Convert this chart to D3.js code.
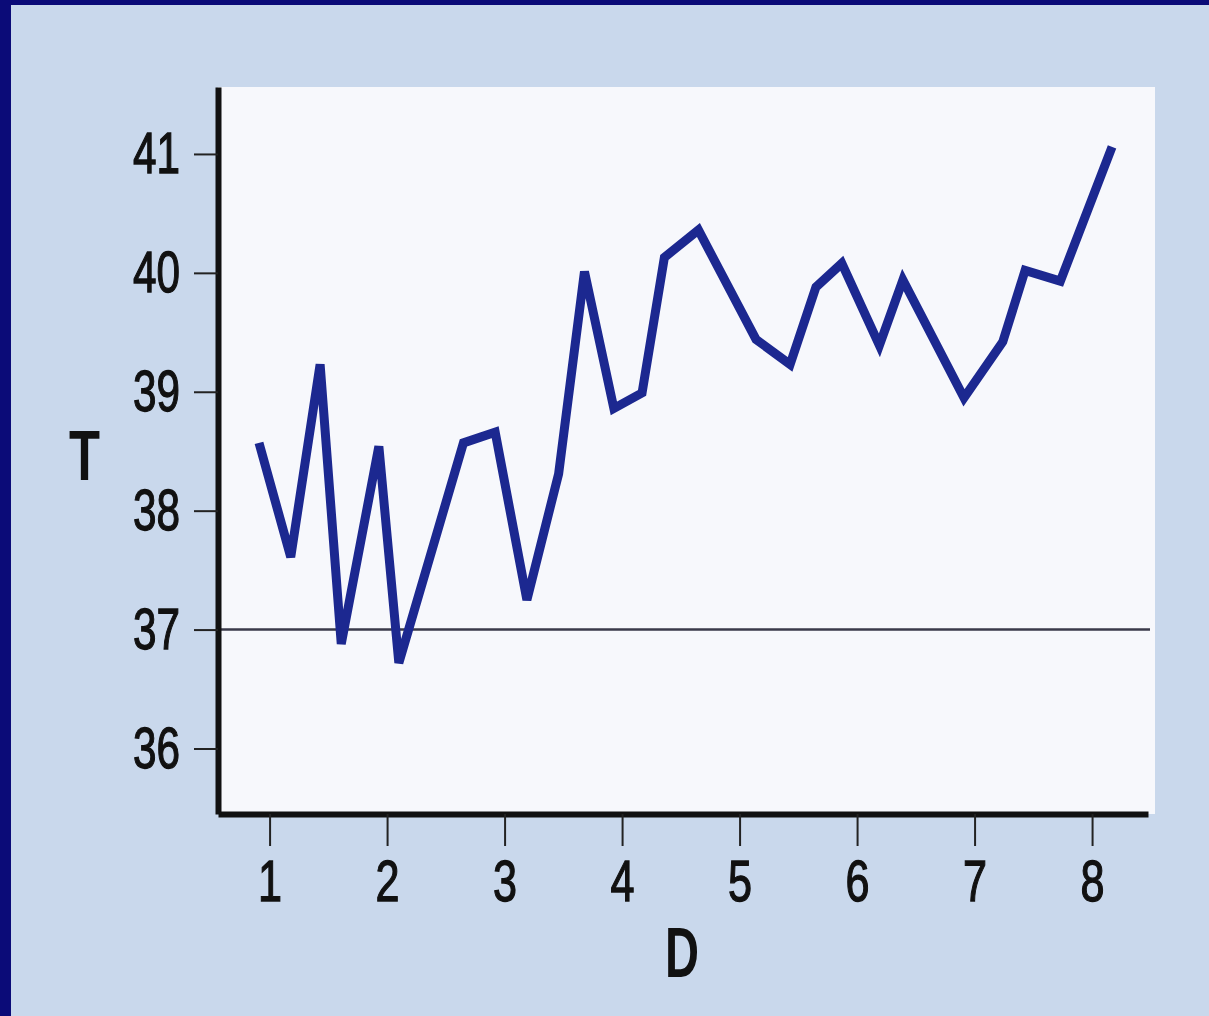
<!DOCTYPE html>
<html>
<head>
<meta charset="utf-8">
<script src="https://cdn.jsdelivr.net/npm/d3@7"></script>
<style>
  body { margin: 0; background: #0b0b78; }
  svg { display: block; }
  .tick text { font-family: "Liberation Sans", Arial, sans-serif; }
</style>
</head>
<body>
<svg id="chart" width="1209" height="1016"></svg>
<script>
// day (x) and temperature (y)
const days = [0.91, 1.18, 1.43, 1.61, 1.93, 2.10, 2.65, 2.92, 3.19, 3.46, 3.68, 3.93, 4.17,
    4.36, 4.65, 5.14, 5.43, 5.65, 5.87, 6.19, 6.39, 6.91, 7.24, 7.43, 7.73, 8.17];
const temps = [38.57, 37.61, 39.23, 36.88, 38.54, 36.72, 38.57, 38.66, 37.25, 38.31, 40.01, 38.86, 38.99,
    40.13, 40.36, 39.44, 39.23, 39.88, 40.08, 39.39, 39.94, 38.95, 39.42, 40.02, 39.93, 41.06];
const xTicks = [1, 2, 3, 4, 5, 6, 7, 8];
const yTicks = [36, 37, 38, 39, 40, 41];
const normalTemp = 37;

const data = days.map((d, i) => ({ day: d, temp: temps[i] }));

const svg = d3.select('#chart');

// light panel inside the dark frame
svg.append('rect')
    .attr('x', 11).attr('y', 5)
    .attr('width', 1209 - 11).attr('height', 1016 - 5)
    .attr('fill', '#c9d8ec');

const xScale = d3.scaleLinear().domain([0.561, 8.476]).range([218, 1148]);
const yScale = d3.scaleLinear().domain([35.449, 41.563]).range([814, 87]);

// white plot paper
svg.append('rect')
    .attr('x', 218).attr('y', 87)
    .attr('width', 1155 - 218).attr('height', 814 - 87)
    .attr('fill', '#f7f8fc');

// normal temperature line
svg.append('line')
    .attr('x1', 220).attr('x2', 1150)
    .attr('y1', yScale(normalTemp)).attr('y2', yScale(normalTemp))
    .attr('stroke', '#3a3a4a')
    .attr('stroke-width', 2.5);

const line = d3.line()
    .x(d => xScale(d.day))
    .y(d => yScale(d.temp));

svg.append('path')
    .datum(data)
    .attr('d', line)
    .attr('fill', 'none')
    .attr('stroke', '#1c2890')
    .attr('stroke-width', 9)
    .attr('stroke-linejoin', 'miter')
    .attr('stroke-miterlimit', 3);

const xAxis = svg.append('g')
    .attr('transform', `translate(0,${814})`)
    .call(d3.axisBottom(xScale).tickValues(xTicks).tickFormat(d3.format('d'))
        .tickSize(32).tickSizeOuter(0).tickPadding(14));

const yAxis = svg.append('g')
    .attr('transform', `translate(${218},0)`)
    .call(d3.axisLeft(yScale).tickValues(yTicks).tickFormat(d3.format('d'))
        .tickSize(24).tickSizeOuter(0).tickPadding(14));

xAxis.select('.domain').attr('stroke', '#111').attr('stroke-width', 6);
yAxis.select('.domain').attr('stroke', '#111').attr('stroke-width', 6);
svg.selectAll('.tick line').attr('stroke', '#222').attr('stroke-width', 2);
svg.selectAll('.tick text')
    .attr('font-size', 58)
    .attr('fill', '#111')
    .attr('stroke', '#111')
    .attr('stroke-width', 1.3)
    .attr('lengthAdjust', 'spacingAndGlyphs');
xAxis.selectAll('.tick text').attr('dy', '0.71em').attr('textLength', 24);
yAxis.selectAll('.tick text').attr('textLength', 47);

svg.append('text')
    .attr('x', 69).attr('y', 455)
    .attr('dy', '0.36em')
    .attr('font-family', '"Liberation Sans", Arial, sans-serif')
    .attr('font-weight', 700)
    .attr('font-size', 70)
    .attr('fill', '#111')
    .attr('textLength', 31)
    .attr('lengthAdjust', 'spacingAndGlyphs')
    .text('T');

svg.append('text')
    .attr('x', 665).attr('y', 952)
    .attr('dy', '0.36em')
    .attr('font-family', '"Liberation Sans", Arial, sans-serif')
    .attr('font-weight', 700)
    .attr('font-size', 70)
    .attr('fill', '#111')
    .attr('textLength', 34)
    .attr('lengthAdjust', 'spacingAndGlyphs')
    .text('D');
</script>
</body>
</html>
